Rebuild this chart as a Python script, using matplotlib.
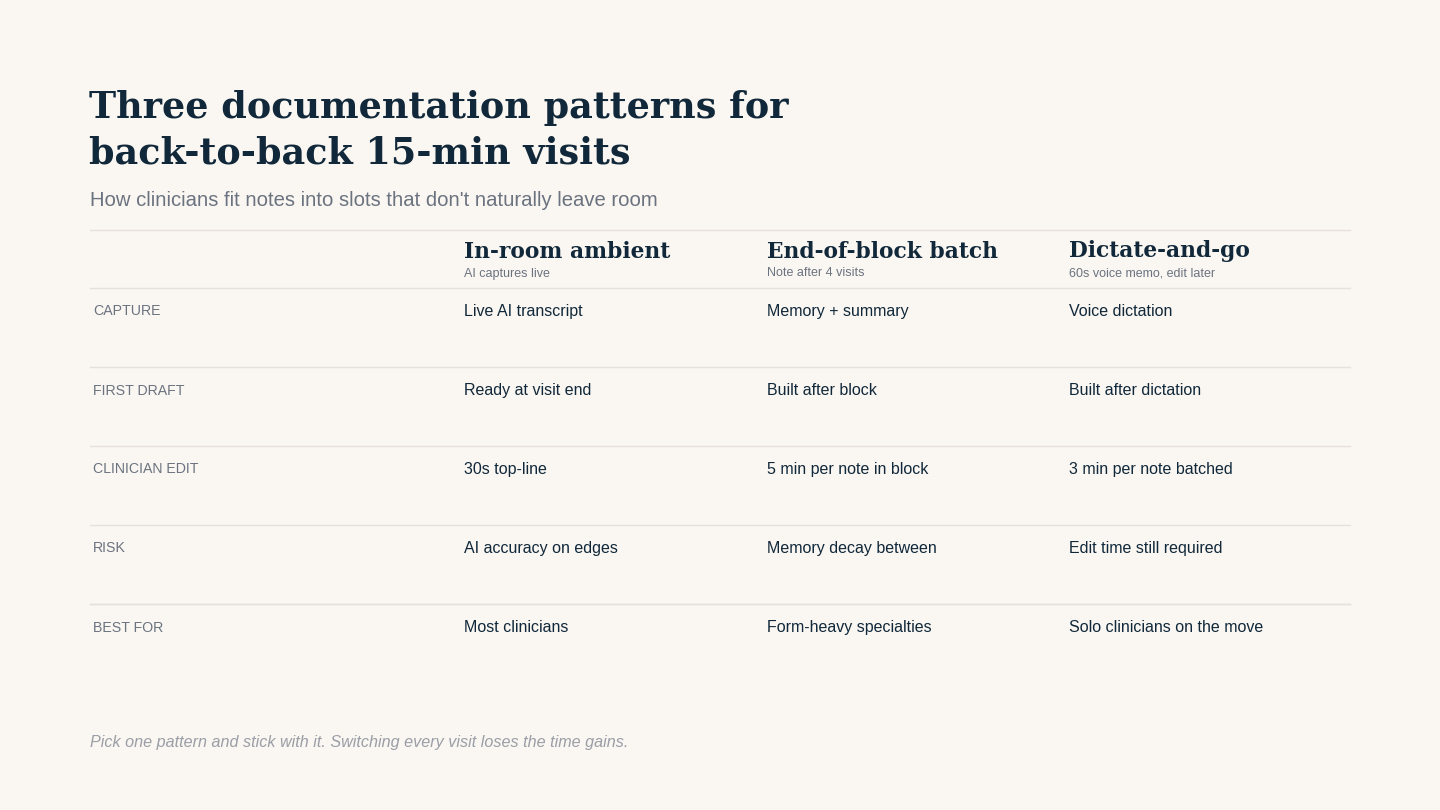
import matplotlib.pyplot as plt
from matplotlib.lines import Line2D

title_lines = ["Three documentation patterns for", "back-to-back 15-min visits"]
subtitle = "How clinicians fit notes into slots that don't naturally leave room"
columns = ["In-room ambient", "End-of-block batch", "Dictate-and-go"]
column_notes = ["AI captures live", "Note after 4 visits", "60s voice memo, edit later"]
row_labels = ["CAPTURE", "FIRST DRAFT", "CLINICIAN EDIT", "RISK", "BEST FOR"]
cells = [
    ["Live AI transcript", "Memory + summary", "Voice dictation"],
    ["Ready at visit end", "Built after block", "Built after dictation"],
    ["30s top-line", "5 min per note in block", "3 min per note batched"],
    ["AI accuracy on edges", "Memory decay between", "Edit time still required"],
    ["Most clinicians", "Form-heavy specialties", "Solo clinicians on the move"],
]
footer = "Pick one pattern and stick with it. Switching every visit loses the time gains."

BG = "#faf6f1"
NAVY = "#10283a"
GREY = "#6b7380"
RULE = "#e6e1da"
W, H = 1440, 810

fig = plt.figure(figsize=(14.4, 8.1), dpi=100, facecolor=BG)

def px(x, y):
    return x / W, 1 - y / H

def txt(x, y, s, **kw):
    fx, fy = px(x, y)
    fig.text(fx, fy, s, va="center_baseline", ha="left", **kw)

def rule(y, x0=90, x1=1350):
    (a, b), (c, _) = px(x0, y), px(x1, y)
    fig.add_artist(Line2D([a, c], [b, b], color=RULE, lw=1, transform=fig.transFigure))

serif = ["DejaVu Serif"]
sans = ["Liberation Sans", "DejaVu Sans"]

for i, line in enumerate(title_lines):
    txt(89, 104 + 45 * i, line, family=serif, weight="bold", size=26.3, color=NAVY)
txt(90, 198, subtitle, family=sans, size=14.6, color=GREY)

rule(230)
col_x = [464, 767, 1069]
for x, name, note in zip(col_x, columns, column_notes):
    txt(x, 249, name, family=serif, weight="bold", size=15.7, color=NAVY)
    txt(x, 272, note, family=sans, size=9, color=GREY)

row_y0 = 288
row_h = 79
for r, (label, row) in enumerate(zip(row_labels, cells)):
    top = row_y0 + r * row_h
    rule(top)
    y = top + 22
    txt(93, y, label, family=sans, size=10.2, color=GREY)
    for x, val in zip(col_x, row):
        txt(x, y, val, family=sans, size=11.5, color=NAVY)
rule(row_y0 + 4 * row_h)

txt(90, 741, footer, family=sans, size=11.6, color="#9a9ea6", style="italic")

fig.savefig("out.png", dpi=100, facecolor=BG)
